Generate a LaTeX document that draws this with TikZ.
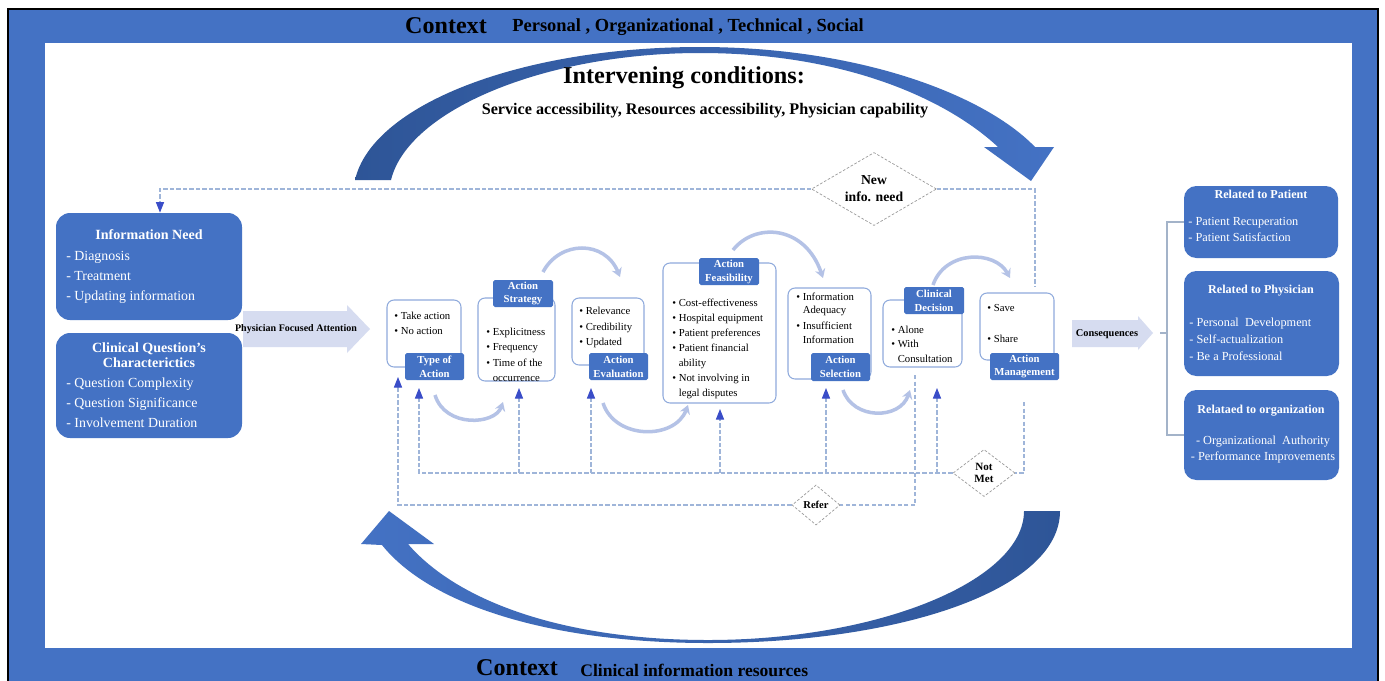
\documentclass[tikz,border=0pt]{standalone}
\usepackage{fontspec}
\setmainfont{Liberation Serif}
\usetikzlibrary{arrows.meta,shapes.geometric,fit}
\definecolor{frameblue}{HTML}{4472C4}
\definecolor{darkarc}{HTML}{2E5597}
\definecolor{edgeblue}{HTML}{8FAADC}
\definecolor{curveblue}{HTML}{B4C2E6}
\definecolor{dashc}{HTML}{9FB5D9}
\definecolor{tri}{HTML}{3A4DC8}
\definecolor{lav}{HTML}{D6DCF0}
\definecolor{brk}{HTML}{A3B3C9}
\definecolor{dgray}{HTML}{9A9A9A}
\newcommand\fsz[2]{\fontsize{#1}{#2}\selectfont}
\newcommand\bulx{\textbullet\ }
\newcommand\bulo{\phantom{\textbullet\ }}
\begin{document}
\begin{tikzpicture}[x=0.02cm,y=-0.02cm,
  ctx/.style={inner sep=0,font=\fsz{13.7pt}{16pt}\bfseries},
  ctxsub/.style={inner sep=0,anchor=west,font=\fsz{10.5pt}{12pt}\bfseries},
  bigbox/.style={fill=frameblue,draw=none,rounded corners=8pt,inner sep=0},
  bigtitle/.style={text=white,inner sep=0,align=center,font=\fsz{8pt}{8.5pt}\bfseries},
  bigitems/.style={text=white,inner sep=0,align=left,anchor=west,font=\fsz{7.9pt}{11.4pt}},
  wbox/.style={draw=edgeblue,line width=0.6pt,fill=white,rounded corners=4pt,inner sep=0},
  lblbox/.style={fill=frameblue,rounded corners=1pt,inner sep=0},
  lbltext/.style={inner sep=0,text=white,align=center,font=\fsz{6.1pt}{7.9pt}\bfseries},
  items/.style={inner sep=0,align=left,anchor=west,font=\fsz{6.1pt}{8.8pt}},
  curve/.style={curveblue,line width=2pt,-{Stealth[length=5pt,width=6pt]}},
  dashline/.style={dashc,line width=0.6pt,dash pattern=on 2.5pt off 1.2pt},
  uptip/.style={-{Triangle[length=6pt,width=4.6pt,color=tri]}},
  dia/.style={diamond,draw=dgray,line width=0.4pt,dash pattern=on 1.5pt off 1pt,fill=white,inner sep=0,align=center,font=\fsz{6pt}{7pt}\bfseries},
  rbox/.style={fill=frameblue,rounded corners=7pt,inner sep=0},
  rtitle/.style={text=white,inner sep=0,font=\fsz{6.9pt}{8pt}\bfseries},
  ritems/.style={text=white,inner sep=0,align=left,anchor=west,font=\fsz{7pt}{9.4pt}},
  hlabel/.style={inner sep=0,font=\fsz{5.7pt}{7pt}\bfseries}
]
\clip (0,0) rectangle (1385,680);
\useasboundingbox (0,0) rectangle (1385,680);
\fill[white] (0,0) rectangle (1385,680);
% frame
\draw[black,line width=1.2pt,fill=frameblue] (8,9) rectangle (1378,700);
\fill[white] (45,43) rectangle (1352,648);
\node[ctx] (ctxtop) at (446,26) {Context};
\node[ctxsub] (ctxtopsub) at (512,27) {Personal , Organizational , Technical , Social};
\node[ctx] (ctxbot) at (517,668) {Context};
\node[ctxsub,font=\fsz{10pt}{12pt}\bfseries] (ctxbotsub) at (580,670) {Clinical information resources};

% big arcs
\path[shade,left color=darkarc,right color=frameblue]
  (355,180) .. controls (372,105) and (520,47) .. (700,47)
  .. controls (860,47) and (985,95) .. (1035,147)
  -- (1054,147) -- (1031,181) -- (984,147) -- (998,147)
  .. controls (950,102) and (850,53) .. (700,53)
  .. controls (545,53) and (408,110) .. (391,180) -- cycle;
\path[shade,left color=frameblue,right color=darkarc]
  (1060,511) .. controls (1060,590) and (900,643) .. (708,643)
  .. controls (550,643) and (430,605) .. (382,545)
  -- (361,544) -- (389,511) -- (434,544) -- (408,544)
  .. controls (458,602) and (565,640) .. (708,640)
  .. controls (880,640) and (1024,580) .. (1024,511) -- cycle;

\node[inner sep=0,font=\fsz{13.8pt}{16pt}\bfseries] (ivtitle) at (684,78) {Intervening conditions:};
\node[inner sep=0,font=\fsz{9.2pt}{11pt}\bfseries] (ivsub) at (705,111) {Service accessibility, Resources accessibility, Physician capability};

% left boxes
\node[bigbox,fit={(56,213) (242,320)}] (inb) {};
\node[bigtitle] (inbt) at (149,235) {Information Need};
\node[bigitems] (inbi) at (66,277) {- Diagnosis\\- Treatment\\- Updating information};
\node[bigbox,fit={(56,333) (242,438)}] (cqb) {};
\node[bigtitle] (cqbt) at (149,355) {Clinical Question's\\Characterictics};
\node[bigitems] (cqbi) at (66,402.5) {- Question Complexity\\- Question Significance\\- Involvement Duration};

% focused attention arrow
\fill[lav] (243,311) -- (347,311) -- (347,305) -- (370,329) -- (347,353) -- (347,347) -- (243,347) -- cycle;
\node[hlabel] (pfa) at (296,329) {Physician Focused Attention};

% dashed connectors
\node[dia,minimum width=2.5cm,minimum height=1.46cm,shape aspect=1.7,font=\fsz{7.8pt}{9.6pt}\bfseries] (newinfo) at (874,189) {New\\info. need};
\coordinate (in1) at (160,189);
\draw[dashline,uptip] (newinfo.west) -- (in1) -- (in1 |- inb.north);
\coordinate (amtop) at (1035,189);
\coordinate (amtopend) at (1035,287);
\draw[dashline] (newinfo.east) -- (amtop) -- (amtopend);

\node[dia,minimum width=1.24cm,minimum height=0.94cm,shape aspect=1.3,font=\fsz{6.3pt}{7pt}\bfseries] (notmet) at (984,473) {Not\\Met};
\coordinate (nm1) at (1024,402);
\draw[dashline] (nm1) -- (nm1 |- notmet.east) -- (notmet.east);
\coordinate (nmL) at (419,473);
\draw[dashline,uptip] (notmet.west) -- (nmL) -- (419,388);
\foreach \xx/\tt in {519/388,591/388,720/409,826/388,937/388}
  \draw[dashline,uptip] (\xx,473) -- (\xx,\tt);

\node[dia,minimum width=0.96cm,minimum height=0.8cm,shape aspect=1.2] (refer) at (816,505) {Refer};
\coordinate (rf1) at (915,375);
\draw[dashline] (rf1) -- (rf1 |- refer.east) -- (refer.east);
\coordinate (rfL) at (398,505);
\draw[dashline,uptip] (refer.west) -- (rfL) -- (398,377);

% middle boxes
\node[wbox,fit={(387,300) (461,367)}] (toa) {};
\node[items] (toai) at (394,323.5) {\bulx Take action\\\bulx No action};
\node[lblbox,fit={(405,353) (464,380)}] (toal) {};
\node[lbltext] at (toal.center) {Type of\\Action};

\node[wbox,fit={(478,298) (555,381)}] (ast) {};
\node[items] (asti) at (486,355) {\bulx Explicitness\\\bulx Frequency\\\bulx Time of the\\\bulo occurrence};
\node[lblbox,fit={(493,280) (553,307)}] (astl) {};
\node[lbltext] at (astl.center) {Action\\Strategy};

\node[wbox,fit={(572,298) (644,365)}] (aev) {};
\node[items] (aevi) at (579,327.5) {\bulx Relevance\\\bulx Credibility\\\bulx Updated};
\node[lblbox,fit={(589,353) (648,380)}] (aevl) {};
\node[lbltext] at (aevl.center) {Action\\Evaluation};

\node[wbox,fit={(663,263) (776,403)}] (afe) {};
\node[items,font=\fsz{6.1pt}{8.5pt}] (afei) at (672,349) {\bulx Cost-effectiveness\\\bulx Hospital equipment\\\bulx Patient preferences\\\bulx Patient financial\\\bulo ability\\\bulx Not involving in\\\bulo legal disputes};
\node[lblbox,fit={(699,258) (759,285)}] (afel) {};
\node[lbltext] at (afel.center) {Action\\Feasibility};

\node[wbox,fit={(788,288) (871,379)}] (ase) {};
\node[items,font=\fsz{6.1pt}{7.6pt}] (asei) at (796,318) {\bulx Information\\\bulo Adequacy\\[1.5pt]\bulx Insufficient\\\bulo Information};
\node[lblbox,fit={(811,353) (870,381)}] (asel) {};
\node[lbltext] at (asel.center) {Action\\Selection};

\node[wbox,fit={(883,300) (962,367)}] (cdc) {};
\node[items,font=\fsz{6.1pt}{8.2pt}] (cdci) at (891,344) {\bulx Alone\\\bulx With\\\bulo Consultation};
\node[lblbox,fit={(904,287) (964,314)}] (cdcl) {};
\node[lbltext] at (cdcl.center) {Clinical\\Decision};

\node[wbox,fit={(980,293) (1054,360)}] (amg) {};
\node[items,font=\fsz{6.1pt}{17.5pt}] (amgi) at (987,323.5) {\bulx Save\\\bulx Share};
\node[lblbox,fit={(990,353) (1059,380)}] (amgl) {};
\node[lbltext] at (amgl.center) {Action\\Management};

% light curved arrows
\draw[curve] (435,395) .. controls (445,428) and (495,425) .. (503,402);
\draw[curve] (543,272) .. controls (560,240) and (605,240) .. (620,277);
\draw[curve] (603,403) .. controls (615,440) and (675,440) .. (688,405);
\draw[curve] (733,250) .. controls (755,222) and (805,225) .. (823,278);
\draw[curve] (843,390) .. controls (853,420) and (900,420) .. (910,390);
\draw[curve] (933,285) .. controls (945,250) and (995,250) .. (1010,278);

% consequences
\fill[lav] (1072,320) -- (1138,320) -- (1138,316) -- (1153,333) -- (1138,350) -- (1138,347) -- (1072,347) -- cycle;
\node[hlabel,font=\fsz{5.9pt}{7pt}\bfseries] (cons) at (1107,334) {Consequences};

% right boxes
\node[rbox,fit={(1184,186) (1338,258)}] (rp) {};
\node[rtitle] (rpt) at (1261,194) {Related to Patient};
\node[ritems,font=\fsz{7pt}{9.1pt}] (rpi) at (1188,229) {- Patient Recuperation\\- Patient Satisfaction};
\node[rbox,fit={(1184,271) (1339,376)}] (rph) {};
\node[rtitle] (rpht) at (1261,291) {Related to Physician};
\node[ritems,font=\fsz{7pt}{9.7pt}] (rphi) at (1189,339) {- Personal\ \ Development\\- Self-actualization\\- Be a Professional};
\node[rbox,fit={(1184,390) (1339,480)}] (ro) {};
\node[rtitle] (rot) at (1261,411) {Relataed to organization};
\node[ritems,align=center,anchor=center,font=\fsz{7pt}{9.6pt}] (roi) at (1263,449.5) {- Organizational\ \ Authority\\- Performance Improvements};

% bracket
\coordinate (bt) at (1167,222);
\coordinate (bb) at (1167,435);
\draw[brk,line width=0.6pt] (rp.west |- bt) -- (bt) -- (bb) -- (ro.west |- bb);
\draw[brk,line width=0.6pt] (1160,333) -- (1167,333);
\end{tikzpicture}
\end{document}
